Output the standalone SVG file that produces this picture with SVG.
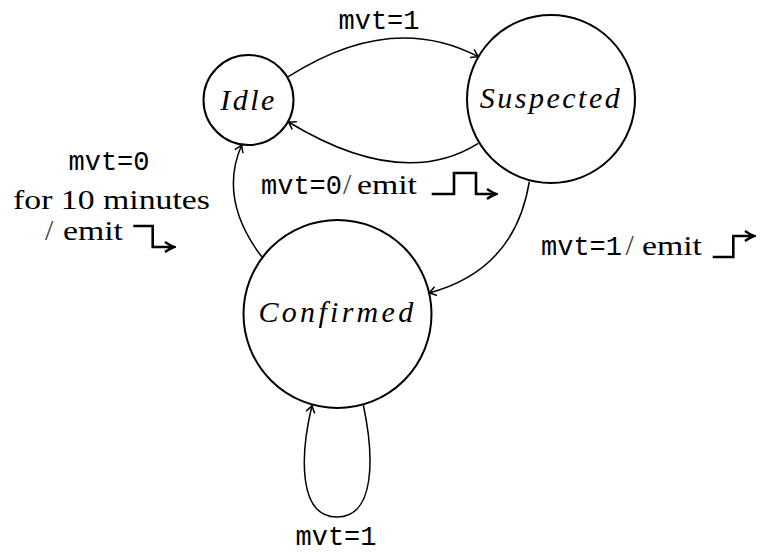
<svg xmlns="http://www.w3.org/2000/svg" width="760" height="554" viewBox="0 0 760 554">
<defs>
<style>
.node{fill:#fff;stroke:#000;stroke-width:2}
.nlabel{font-family:"Liberation Serif",serif;font-style:italic;font-size:30px;letter-spacing:2.5px;text-anchor:middle}
.edge{fill:none;stroke:#000;stroke-width:1.5;marker-end:url(#arr)}
.tt{font-family:"Liberation Mono",monospace;font-size:27px}
.rm{font-family:"Liberation Serif",serif;font-size:28px}
.sl{font-family:"Liberation Serif",serif;font-size:30px;fill:#444}
.sig{fill:none;stroke:#000;stroke-width:2.6;stroke-linejoin:miter;marker-end:url(#sarr)}
</style>
<marker id="arr" viewBox="-10 -6 12 12" refX="0" refY="0" markerWidth="12" markerHeight="12" orient="auto" markerUnits="userSpaceOnUse">
<path d="M-7,-4.5 Q-2,-1 0,0 Q-2,1 -7,4.5" fill="none" stroke="#000" stroke-width="1.5"/>
</marker>
<marker id="sarr" viewBox="-12 -7 14 14" refX="0" refY="0" markerWidth="14" markerHeight="14" orient="auto" markerUnits="userSpaceOnUse">
<path d="M-9,-5 Q-3,-1 0,0 Q-3,1 -9,5" fill="none" stroke="#000" stroke-width="2.6"/>
</marker>
</defs>
<rect width="760" height="554" fill="#fff"/>
<g id="connectors">
<path class="edge" d="M288.3,76.7 Q391,11 478.3,56.7"/>
<path class="edge" d="M478.3,143.3 Q402,191 288.5,122"/>
<path class="edge" d="M529.3,181.7 Q515,270 429,293"/>
<path class="edge" d="M261.7,256.7 Q218,199 241.7,145"/>
<path class="edge" d="M363.3,405 C374,455 376,517 337,517 C298,517 300,455 312,405.5"/>
<text class="tt" x="379" y="29" text-anchor="middle">mvt=1</text>
<text class="tt" x="261" y="194">mvt=0</text>
<text class="sl" x="343" y="194">/</text>
<text class="rm" x="357" y="194" textLength="60" lengthAdjust="spacingAndGlyphs">emit</text>
<path class="sig" d="M431.7,194 H454 V173 H476 V194 H496"/>
<text class="tt" x="541" y="255">mvt=1</text>
<text class="sl" x="625.5" y="255">/</text>
<text class="rm" x="642" y="255" textLength="60" lengthAdjust="spacingAndGlyphs">emit</text>
<path class="sig" d="M712.7,257 H733.3 V236 H754"/>
<text class="tt" x="109" y="170" text-anchor="middle">mvt=0</text>
<text class="rm" x="13" y="209" textLength="197" lengthAdjust="spacingAndGlyphs">for 10 minutes</text>
<text class="sl" x="45" y="240">/</text>
<text class="rm" x="63" y="240" textLength="60" lengthAdjust="spacingAndGlyphs">emit</text>
<path class="sig" d="M133.3,226 H152.7 V247 H174"/>
<text class="tt" x="336" y="545" text-anchor="middle">mvt=1</text>
</g>
<g id="idle">
<circle class="node" cx="248.5" cy="100" r="45"/>
<text class="nlabel" x="248.5" y="110">Idle</text>
</g>
<g id="suspected">
<circle class="node" cx="551" cy="99" r="84"/>
<text class="nlabel" x="551" y="108">Suspected</text>
</g>
<g id="confirmed">
<circle class="node" cx="337.5" cy="314" r="94"/>
<text class="nlabel" x="337.5" y="322" style="letter-spacing:3.3px">Confirmed</text>
</g>
</svg>
